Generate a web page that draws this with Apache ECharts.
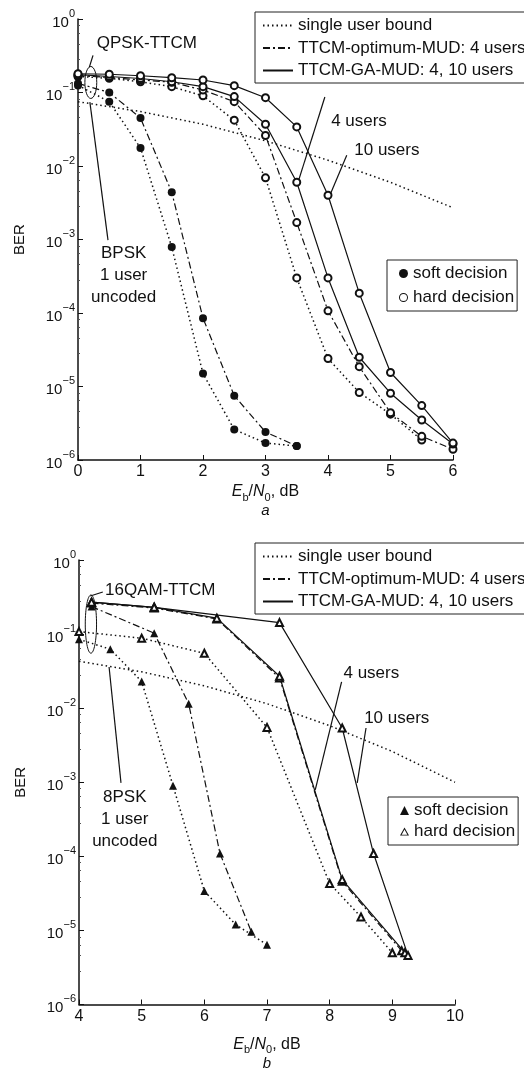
<!DOCTYPE html>
<html>
<head>
<meta charset="utf-8">
<script src="https://cdn.jsdelivr.net/npm/echarts@6/dist/echarts.min.js"></script>
<style>
  html, body { margin: 0; padding: 0; background: #fff; }
  #chart { width: 524px; height: 1072px; }
</style>
</head>
<body>
<div id="chart"></div>
<script>
// panel a: QPSK-TTCM, Eb/N0 0..6 dB
const xA = [0, 0.5, 1, 1.5, 2, 2.5, 3, 3.5, 4, 4.5, 5, 5.5, 6];
const aGa10Hard = [0.18, 0.177, 0.169, 0.159, 0.148, 0.124, 0.085, 0.034, 0.004, 1.86e-4, 1.55e-5, 5.5e-6, 1.7e-6];
const aGa4Hard = [0.175, 0.165, 0.155, 0.14, 0.12, 0.088, 0.037, 0.006, 3.0e-4, 2.5e-5, 8.1e-6, 3.5e-6, 1.65e-6];
const aOptHard = [0.17, 0.16, 0.148, 0.138, 0.108, 0.075, 0.026, 0.0017, 1.07e-4, 1.86e-5, 4.4e-6, 2.1e-6, 1.4e-6];
const xABoundHard = [0, 0.5, 1, 1.5, 2, 2.5, 3, 3.5, 4, 4.5, 5, 5.5];
const aBoundHard = [0.165, 0.156, 0.14, 0.12, 0.09, 0.042, 0.0069, 3.0e-4, 2.4e-5, 8.3e-6, 4.2e-6, 1.87e-6];
const xASoft = [0, 0.5, 1, 1.5, 2, 2.5, 3, 3.5];
const aOptSoft = [0.133, 0.1, 0.045, 0.0044, 8.5e-5, 7.5e-6, 2.4e-6, 1.55e-6];
const aBoundSoft = [0.125, 0.075, 0.0176, 7.9e-4, 1.5e-5, 2.6e-6, 1.7e-6, 1.55e-6];
const xAUncoded = [0, 1, 2, 3, 4, 5, 6];
const aBpskUncoded = [0.075, 0.055, 0.037, 0.022, 0.012, 0.006, 0.0027];

// panel b: 16QAM-TTCM, Eb/N0 4..10 dB
const xBGa10 = [4.2, 5.2, 7.2, 8.2, 8.7, 9.25];
const bGa10Hard = [0.27, 0.23, 0.143, 0.0054, 1.09e-4, 4.6e-6];
const xBGa4 = [4.2, 5.2, 6.2, 7.2, 8.2, 9.2];
const bGa4Hard = [0.27, 0.23, 0.164, 0.027, 4.85e-5, 5.0e-6];
const xBOpt = [4.2, 5.2, 6.2, 7.2, 8.2, 9.15];
const bOptHard = [0.262, 0.225, 0.16, 0.0255, 4.6e-5, 5.3e-6];
const xBBound = [4, 5, 6, 7, 8, 8.5, 9];
const bBoundHard = [0.108, 0.088, 0.055, 0.0055, 4.3e-5, 1.52e-5, 5.0e-6];
const xBOptSoft = [4.2, 5.2, 5.75, 6.25, 6.75];
const bOptSoft = [0.235, 0.103, 0.0115, 1.09e-4, 9.6e-6];
const xBBoundSoft = [4, 4.5, 5, 5.5, 6, 6.5, 7];
const bBoundSoft = [0.085, 0.0625, 0.0229, 9.0e-4, 3.4e-5, 1.2e-5, 6.4e-6];
const xBUncoded = [4, 5, 6, 7, 8, 9, 10];
const b8pskUncoded = [0.043, 0.031, 0.02, 0.0115, 0.0058, 0.0026, 0.001];

const lineNames = ['single user bound', 'TTCM-optimum-MUD: 4 users', 'TTCM-GA-MUD: 4, 10 users'];
const markNames = ['soft decision', 'hard decision'];

// annotations, in data units of each panel
const aNotes = [
  { text: 'QPSK-TTCM', at: [0.3, 0.47], align: 'left' },
  { text: 'BPSK\n1 user\nuncoded', at: [0.73, 3.3e-4], align: 'center' },
  { text: '4 users', at: [4.05, 0.041], align: 'left' },
  { text: '10 users', at: [4.42, 0.0165], align: 'left' }
];
const aPointers = [
  [[0.24, 0.32], [0.18, 0.22]],
  [[0.19, 0.074], [0.48, 9.8e-4]],
  [[3.52, 0.006], [3.95, 0.087]],
  [[4.03, 0.004], [4.3, 0.014]]
];
const aRing = [[0.11, 0.226], [0.3, 0.083]];

const bNotes = [
  { text: '16QAM-TTCM', at: [4.415, 0.394], align: 'left' },
  { text: '8PSK\n1 user\nuncoded', at: [4.73, 3.2e-4], align: 'center' },
  { text: '4 users', at: [8.22, 0.03], align: 'left' },
  { text: '10 users', at: [8.55, 0.0074], align: 'left' }
];
const bPointers = [
  [[4.38, 0.37], [4.18, 0.327]],
  [[4.48, 0.036], [4.67, 9.8e-4]],
  [[8.19, 0.0226], [7.77, 7.9e-4]],
  [[8.58, 0.0054], [8.44, 9.8e-4]]
];
const bRing = [[4.1, 0.337], [4.28, 0.0552]];

const INK = '#111';
const FONT = 'Liberation Sans';

// thin hollow legend icons (outer shape minus inner shape)
const RING_CIRCLE = 'path://M5,0A5,5,0,1,1,5,10A5,5,0,1,1,5,0ZM5,1.1A3.9,3.9,0,1,0,5,8.9A3.9,3.9,0,1,0,5,1.1Z';
const RING_TRIANGLE = 'path://M5,0L10,9L0,9ZM5,2.3L1.8,8L8.2,8Z';

const dashes = {
  solid: { type: 'solid', width: 1.2 },
  dashdot: { type: [7, 3, 2, 3], width: 1.2 },
  dot: { type: [1.5, 3], width: 1.5 }
};

function curve(panel, xs, ys, dash, symbol) {
  const empty = symbol && symbol.indexOf('empty') === 0;
  return {
    type: 'line',
    xAxisIndex: panel,
    yAxisIndex: panel,
    data: xs.map((x, i) => [x, ys[i]]),
    symbol: symbol || 'none',
    symbolSize: empty ? 7 : 8,
    showSymbol: !!symbol,
    lineStyle: Object.assign({ color: INK }, dashes[dash]),
    itemStyle: { color: INK, borderWidth: 1 },
    silent: true
  };
}

function legendDummy(name, dash, symbol) {
  return {
    name: name,
    type: 'line',
    data: [],
    symbol: symbol || 'none',
    lineStyle: Object.assign({ color: INK }, dashes[dash]),
    itemStyle: { color: INK, borderWidth: 1 }
  };
}

function xAxisFor(panel, min, max, letter, gap) {
  return {
    type: 'value',
    gridIndex: panel,
    min: min,
    max: max,
    interval: 1,
    axisLine: { lineStyle: { color: INK, width: 1.5 } },
    axisTick: { inside: true, length: 5, lineStyle: { color: INK } },
    axisLabel: { fontSize: 16, color: INK, margin: 4, fontFamily: FONT },
    splitLine: { show: false },
    name: '{i|E}{s|b}{n|/}{i|N}{s|0}{n|, dB}\n{l|' + letter + '}',
    nameLocation: 'middle',
    nameGap: gap,
    nameTextStyle: {
      color: INK,
      fontFamily: FONT,
      rich: {
        i: { fontSize: 16, lineHeight: 22, fontStyle: 'italic', color: INK, fontFamily: FONT },
        n: { fontSize: 16, lineHeight: 22, color: INK, fontFamily: FONT },
        s: { fontSize: 11, lineHeight: 11, verticalAlign: 'bottom', color: INK, fontFamily: FONT },
        l: { fontSize: 15, lineHeight: 16, fontStyle: 'italic', color: INK, fontFamily: FONT }
      }
    }
  };
}

function yAxisFor(panel) {
  return {
    type: 'log',
    logBase: 10,
    gridIndex: panel,
    min: 1e-6,
    max: 1,
    splitNumber: 6,
    axisLine: { show: true, lineStyle: { color: INK, width: 1.5 } },
    axisTick: { inside: true, length: 5, lineStyle: { color: INK } },
    minorTick: { show: true, splitNumber: 5, length: 2, lineStyle: { color: '#555' } },
    splitLine: { show: false },
    axisLabel: {
      margin: 3,
      color: INK,
      formatter: function (v) {
        const e = Math.round(Math.log10(v));
        return '{b|10}{s|' + (e === 0 ? '0' : '\u2212' + (-e)) + '}';
      },
      rich: {
        b: { fontSize: 15, lineHeight: 22, verticalAlign: 'bottom', color: INK, fontFamily: FONT },
        s: { fontSize: 11, lineHeight: 11, verticalAlign: 'top', color: INK, fontFamily: FONT }
      }
    },
    name: 'BER',
    nameLocation: 'middle',
    nameGap: 51,
    nameTextStyle: { fontSize: 15, color: INK, fontFamily: FONT }
  };
}

function lineLegend(top) {
  return {
    data: lineNames,
    orient: 'vertical',
    left: 255,
    top: top,
    padding: [5, 80, 4, 7],
    itemWidth: 30,
    itemHeight: 12,
    itemGap: 5.5,
    itemStyle: { opacity: 0 },
    borderColor: '#222',
    borderWidth: 1,
    backgroundColor: '#fff',
    selectedMode: false,
    textStyle: { fontSize: 17, color: INK, fontFamily: FONT }
  };
}

function markLegend(left, top, icons, gap) {
  return {
    data: markNames.map((n, i) => ({ name: n, icon: icons[i] })),
    orient: 'vertical',
    left: left,
    top: top,
    padding: [5, 3, 5, 12],
    itemWidth: 9,
    itemHeight: 9,
    itemGap: gap,
    borderColor: '#222',
    borderWidth: 1,
    backgroundColor: '#fff',
    selectedMode: false,
    textStyle: { fontSize: 17, color: INK, fontFamily: FONT }
  };
}

const chart = echarts.init(document.getElementById('chart'));

chart.setOption({
  animation: false,
  backgroundColor: '#fff',
  textStyle: { fontFamily: FONT, color: INK },
  grid: [
    { left: 78, top: 19, width: 375, height: 441 },
    { left: 79, top: 560, width: 376, height: 445 }
  ],
  xAxis: [xAxisFor(0, 0, 6, 'a', 21), xAxisFor(1, 4, 10, 'b', 29)],
  yAxis: [yAxisFor(0), yAxisFor(1)],
  legend: [
    lineLegend(12),
    lineLegend(543),
    markLegend(387, 260, ['circle', RING_CIRCLE], 7),
    markLegend(388, 797, ['triangle', RING_TRIANGLE], 4)
  ],
  series: [
    legendDummy(lineNames[0], 'dot'),
    legendDummy(lineNames[1], 'dashdot'),
    legendDummy(lineNames[2], 'solid'),
    legendDummy(markNames[0], 'solid', 'circle'),
    legendDummy(markNames[1], 'solid', 'emptyCircle'),

    curve(0, xAUncoded, aBpskUncoded, 'dot'),
    curve(0, xASoft, aBoundSoft, 'dot', 'circle'),
    curve(0, xASoft, aOptSoft, 'dashdot', 'circle'),
    curve(0, xABoundHard, aBoundHard, 'dot', 'emptyCircle'),
    curve(0, xA, aOptHard, 'dashdot', 'emptyCircle'),
    curve(0, xA, aGa4Hard, 'solid', 'emptyCircle'),
    curve(0, xA, aGa10Hard, 'solid', 'emptyCircle'),

    curve(1, xBUncoded, b8pskUncoded, 'dot'),
    curve(1, xBBoundSoft, bBoundSoft, 'dot', 'triangle'),
    curve(1, xBOptSoft, bOptSoft, 'dashdot', 'triangle'),
    curve(1, xBBound, bBoundHard, 'dot', 'emptyTriangle'),
    curve(1, xBOpt, bOptHard, 'dashdot', 'emptyTriangle'),
    curve(1, xBGa4, bGa4Hard, 'solid', 'emptyTriangle'),
    curve(1, xBGa10, bGa10Hard, 'solid', 'emptyTriangle')
  ]
});

// annotations placed through the axes' own conversion
function annotate(panel, notes, pointers, ring) {
  const px = (p) => chart.convertToPixel({ gridIndex: panel }, p);
  const out = [];
  const c0 = px(ring[0]), c1 = px(ring[1]);
  out.push({
    type: 'ellipse',
    shape: { cx: (c0[0] + c1[0]) / 2, cy: (c0[1] + c1[1]) / 2, rx: Math.abs(c1[0] - c0[0]) / 2, ry: Math.abs(c1[1] - c0[1]) / 2 },
    style: { fill: 'none', stroke: INK, lineWidth: 1 },
    silent: true
  });
  pointers.forEach((seg) => {
    const p0 = px(seg[0]), p1 = px(seg[1]);
    out.push({
      type: 'line',
      shape: { x1: p0[0], y1: p0[1], x2: p1[0], y2: p1[1] },
      style: { stroke: INK, lineWidth: 1.2 },
      silent: true
    });
  });
  notes.forEach((n) => {
    const p = px(n.at);
    out.push({
      type: 'text',
      x: p[0],
      y: p[1],
      style: {
        text: n.text,
        font: '17px "Liberation Sans"',
        fill: INK,
        align: n.align,
        textAlign: n.align,
        verticalAlign: 'middle',
        textVerticalAlign: 'middle',
        lineHeight: 22
      },
      silent: true
    });
  });
  return out;
}

chart.setOption({
  graphic: annotate(0, aNotes, aPointers, aRing).concat(annotate(1, bNotes, bPointers, bRing))
});
</script>
</body>
</html>
